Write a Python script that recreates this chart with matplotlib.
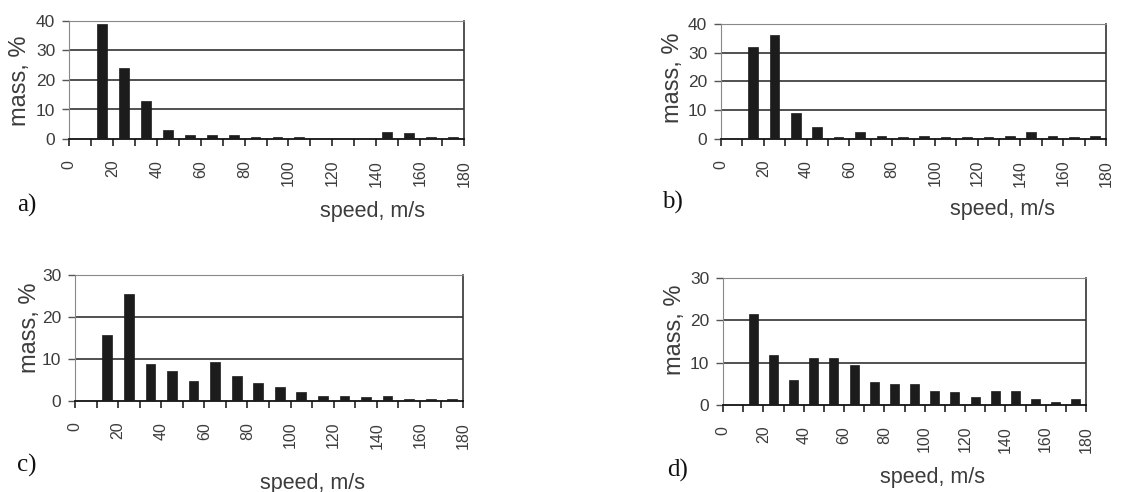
import numpy as np
import matplotlib
matplotlib.use('Agg')
import matplotlib.pyplot as plt
from matplotlib.transforms import ScaledTranslation

###############################################################################
# data: speed bins 0-10, 10-20, ... 170-180 m/s, mass share in %
bin_left = [0, 10, 20, 30, 40, 50, 60, 70, 80, 90, 100, 110, 120, 130, 140, 150, 160, 170]
mass_a = [0, 39, 24, 13, 3, 1.2, 1.2, 1.2, 0.6, 0.6, 0.6, 0, 0, 0, 2.5, 2, 0.6, 0.6]
mass_b = [0, 32, 36, 9, 4.2, 0.6, 2.5, 1.2, 0.6, 1.2, 0.6, 0.6, 0.6, 1.2, 2.5, 1.2, 0.6, 1.2]
mass_c = [0, 15.7, 25.5, 8.9, 7.2, 4.7, 9.4, 5.9, 4.3, 3.4, 2.1, 1.3, 1.3, 0.9, 1.3, 0.5, 0.5, 0.5]
mass_d = [0, 21.6, 11.9, 5.8, 11, 11, 9.4, 5.4, 5, 5, 3.4, 3, 1.8, 3.4, 3.4, 1.4, 0.6, 1.4]

panel_names = ['a)', 'b)', 'c)', 'd)']
y_max = [40, 40, 30, 30]

W, H = 1133, 492
SANS = 'Liberation Sans'
SERIF = 'Liberation Serif'
TXT = '#3c3c3c'

# pixel boxes (left, right, top, bottom) of each plot area
boxes = [(69, 464, 21, 139), (721, 1106, 24, 139), (75, 463, 275, 401), (723, 1086, 278, 405)]
# ylabel centre, xlabel centre, panel letter position
ylab_pos = [(20, 81), (673, 78), (30, 328), (675, 330)]
xlab_pos = [(372, 211), (1002, 210), (313, 483), (932, 477)]
name_pos = [(17, 205), (662, 202), (17, 465), (667, 470)]


def px_axes(fig, box):
    l, r, t, b = box
    return fig.add_axes([l / W, 1 - b / H, (r - l) / W, (b - t) / H])


#画柱状图
def draw_panel(fig, i, values):
    ax = px_axes(fig, boxes[i])
    centers = np.array(bin_left) + 5
    ax.bar(centers, values, width=4.5, color='#1c1c1c', edgecolor='#1c1c1c', linewidth=0.5, zorder=3)
    ax.set_xlim(0, 180)
    ax.set_ylim(0, y_max[i])
    ax.set_yticks(np.arange(0, y_max[i] + 1, 10))
    for v in np.arange(10, y_max[i] + 1, 10):
        ax.axhline(v, color='#202020', lw=1.1, zorder=1)
    # ticks every 10, labels every 20
    ax.set_xticks(np.arange(0, 181, 10))
    ax.set_xticklabels([str(t) if t % 20 == 0 else '' for t in np.arange(0, 181, 10)],
                       rotation=90, va='top', ha='center', fontsize=11.5,
                       family=SANS, color=TXT)
    off = ScaledTranslation(8 / 100, 0, fig.dpi_scale_trans)
    for lab in ax.get_xticklabels():
        lab.set_transform(lab.get_transform() + off)
    ax.tick_params(axis='x', direction='out', length=5, width=1.1, pad=10, color='#111111')
    ax.tick_params(axis='y', direction='out', length=5, width=1, pad=5,
                   labelsize=12.5, labelcolor=TXT, color='#555555')
    for lab in ax.get_yticklabels():
        lab.set_family(SANS)
    ax.spines['bottom'].set_color('#111111')
    ax.spines['bottom'].set_linewidth(1.3)
    ax.spines['left'].set_color('#888888')
    ax.spines['left'].set_linewidth(0.8)
    ax.spines['top'].set_color('#888888')
    ax.spines['top'].set_linewidth(0.8)
    ax.spines['right'].set_color('#333333')
    ax.spines['right'].set_linewidth(1.2)
    ax.set_facecolor('white')

    # 轴标题和面板字母
    x, y = ylab_pos[i]
    fig.text(x / W, 1 - y / H, 'mass, %', rotation=90, ha='center', va='center',
             fontsize=17, family=SANS, color=TXT)
    x, y = xlab_pos[i]
    fig.text(x / W, 1 - y / H, 'speed, m/s', ha='center', va='center',
             fontsize=15.5, family=SANS, color=TXT)
    x, y = name_pos[i]
    fig.text(x / W, 1 - y / H, panel_names[i], ha='left', va='center',
             fontsize=18, family=SERIF, color='#111111')
    return ax


if(__name__ == '__main__'):
    fig = plt.figure(figsize=(W / 100, H / 100), dpi=100)
    fig.patch.set_facecolor('white')
    for i, vals in enumerate([mass_a, mass_b, mass_c, mass_d]):
        draw_panel(fig, i, vals)
    fig.savefig('out.png', dpi=100)
